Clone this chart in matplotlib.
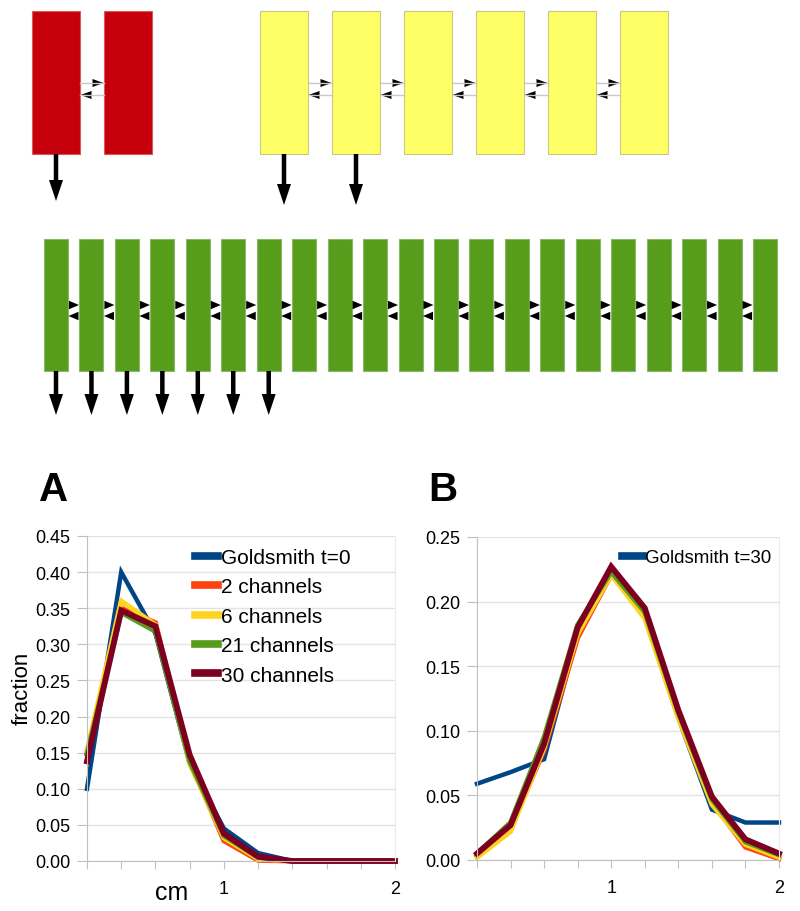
import numpy as np
import matplotlib
matplotlib.use('Agg')
import matplotlib.pyplot as plt
from matplotlib.patches import Rectangle

plt.rcParams['font.family'] = ['Liberation Sans', 'DejaVu Sans']

# ---- data ----
x_tick_labels = ['', '', '', '', '1', '', '', '', '', '2']

series_names_A = ['Goldsmith t=0', '2 channels', '6 channels', '21 channels', '30 channels']
gold_t0 = [0.100, 0.400, 0.315, 0.135, 0.045, 0.011, 0.0, 0.0, 0.0, 0.0]
ch2_A = [0.150, 0.350, 0.330, 0.140, 0.028, 0.001, 0.0, 0.0, 0.0, 0.0]
ch6_A = [0.152, 0.360, 0.327, 0.135, 0.032, 0.003, 0.0, 0.0, 0.0, 0.0]
ch21_A = [0.148, 0.344, 0.318, 0.138, 0.035, 0.005, 0.0, 0.0, 0.0, 0.0]
ch30_A = [0.138, 0.347, 0.325, 0.147, 0.038, 0.006, 0.0, 0.0, 0.0, 0.0]

series_names_B = ['Goldsmith t=30']
gold_t30 = [0.059, 0.068, 0.078, 0.175, 0.222, 0.188, 0.110, 0.039, 0.029, 0.029]
ch2_B = [0.003, 0.025, 0.085, 0.172, 0.221, 0.190, 0.112, 0.045, 0.010, 0.001]
ch6_B = [0.002, 0.022, 0.087, 0.175, 0.221, 0.187, 0.110, 0.043, 0.012, 0.002]
ch21_B = [0.005, 0.029, 0.095, 0.182, 0.223, 0.192, 0.114, 0.047, 0.014, 0.004]
ch30_B = [0.005, 0.027, 0.090, 0.180, 0.227, 0.195, 0.116, 0.049, 0.016, 0.005]

# diagram: number of compartments and outputs per row
n_red, n_red_out = 2, 1
n_yellow, n_yellow_out = 6, 2
n_green, n_green_out = 21, 7

colors = ['#004586', '#ff420e', '#ffd320', '#579d1c', '#7e0021']
widths = [3.2, 3.6, 3.6, 3.6, 4.2]

fig = plt.figure(figsize=(8, 9.12), dpi=100)

# ---- top diagram, drawn in pixel units ----
dax = fig.add_axes([0, 0, 1, 1])
dax.set_xlim(0, 800)
dax.set_ylim(912, 0)
dax.axis('off')


def draw_row(n, x0, step, w, y0, y1, fill, edge, n_out, out_end, link_y, head, lines=True):
    hl, hw = head
    for i in range(n):
        dax.add_patch(Rectangle((x0 + i * step, y0), w, y1 - y0,
                                facecolor=fill, edgecolor=edge, linewidth=0.8))
    for i in range(n - 1):
        a = x0 + i * step + w
        b = x0 + (i + 1) * step
        if lines:
            dax.plot([a, b], [link_y[0], link_y[0]], color='#c8c8c8', lw=1)
            dax.plot([a, b], [link_y[1], link_y[1]], color='#c8c8c8', lw=1)
        # right pointing head
        dax.arrow(b - hl - 0.5, link_y[0], hl, 0, width=0, head_width=hw, head_length=hl,
                  length_includes_head=True, color='black', lw=0)
        # left pointing head
        dax.arrow(a + hl + 0.5, link_y[1], -hl, 0, width=0, head_width=hw, head_length=hl,
                  length_includes_head=True, color='black', lw=0)
    for i in range(n_out):
        cx = x0 + i * step + w / 2
        dax.arrow(cx, y1, 0, out_end - y1, width=4.5, head_width=14, head_length=21,
                  length_includes_head=True, color='black', lw=0)


draw_row(n_red, 32, 72, 48, 12, 155, '#c5000b', '#d65a5a', n_red_out, 202, (84, 96), (11, 8))
draw_row(n_yellow, 260, 72, 48, 12, 155, '#ffff66', '#c8c88a', n_yellow_out, 206, (84, 96), (11, 8))
draw_row(n_green, 44, 35.45, 24, 240, 372, '#579d1c', '#8ab86a', n_green_out, 416, (306, 317),
         (10, 8.5), lines=False)


# ---- charts ----
def style_axes(ax, ymax):
    x = np.arange(len(x_tick_labels))
    ax.set_xlim(0, len(x) - 1)
    ax.set_ylim(0, ymax)
    ax.set_xticks(x)
    ax.set_xticklabels(x_tick_labels)
    yt = np.arange(0, ymax + 0.001, 0.05)
    ax.set_yticks(yt)
    ax.set_yticklabels(['%.2f' % v for v in yt])
    ax.grid(axis='y', color='#e3e3e3', lw=1)
    ax.set_axisbelow(True)
    ax.spines['top'].set_visible(False)
    ax.spines['right'].set_color('#ececec')
    for s in ['left', 'bottom']:
        ax.spines[s].set_color('#c0c0c0')
    ax.tick_params(axis='y', length=7, color='#c0c0c0', labelsize=13, pad=5)
    ax.tick_params(axis='x', length=6, color='#c0c0c0', labelsize=13, pad=8)


axA = fig.add_axes([87 / 800, 1 - 862 / 912, 308 / 800, 325 / 912])
xa = np.arange(len(x_tick_labels))
for data, name, c, lw in zip([gold_t0, ch2_A, ch6_A, ch21_A, ch30_A], series_names_A, colors, widths):
    axA.plot(xa, data, color=c, lw=lw, label=name, solid_joinstyle='miter', clip_on=False)
style_axes(axA, 0.45)
legA = axA.legend(loc='upper left', bbox_to_anchor=(0.35, 0.963), frameon=False, fontsize=15,
                  handlelength=1.1, handletextpad=0.15, labelspacing=0.5, borderpad=0,
                  borderaxespad=0)
for ln in legA.get_lines():
    ln.set_linewidth(5.5)

axB = fig.add_axes([477 / 800, 1 - 861 / 912, 302 / 800, 323 / 912])
for data, c, lw in zip([gold_t30, ch2_B, ch6_B, ch21_B, ch30_B], colors, widths):
    axB.plot(xa, data, color=c, lw=lw, solid_joinstyle='miter', clip_on=False)
style_axes(axB, 0.25)
axB.lines[0].set_label(series_names_B[0])
legB = axB.legend(handles=[axB.lines[0]], loc='upper left', bbox_to_anchor=(0.48, 0.963),
                  frameon=False, fontsize=13.5, handlelength=1.1, handletextpad=0.15,
                  borderpad=0, borderaxespad=0)
for ln in legB.get_lines():
    ln.set_linewidth(5.5)

fig.text(22 / 800, 1 - 688 / 912, 'fraction', rotation=90, ha='center', va='center', fontsize=16)
fig.text(172 / 800, 1 - 893 / 912, 'cm', ha='center', va='center', fontsize=18)
fig.text(54 / 800, 1 - 490 / 912, 'A', ha='center', va='center', fontsize=29, fontweight='bold')
fig.text(443 / 800, 1 - 490 / 912, 'B', ha='center', va='center', fontsize=29, fontweight='bold')

fig.savefig('out.png', dpi=100)
